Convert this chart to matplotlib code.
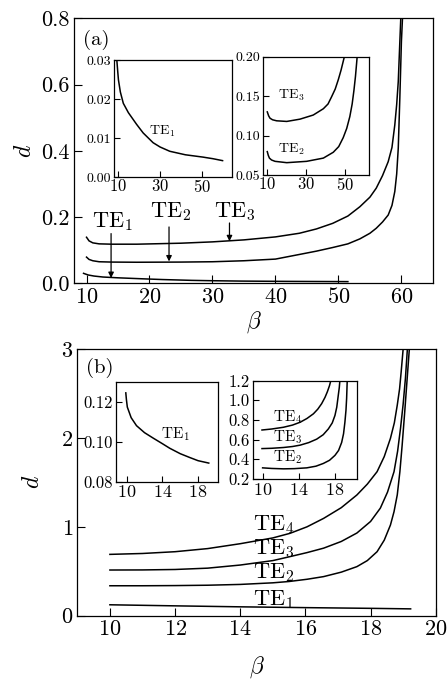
import numpy as np
import matplotlib
matplotlib.use("Agg")
import matplotlib.pyplot as plt
from matplotlib.ticker import FormatStrFormatter

plt.rcParams['font.family'] = 'serif'
plt.rcParams['font.serif'] = ['cmr10', 'DejaVu Serif']
plt.rcParams['mathtext.fontset'] = 'cm'
plt.rcParams['axes.formatter.use_mathtext'] = True

# ---------------- panel (a): d versus beta ----------------
# TE1 (same curve in the big panel and in the left inset)
beta_a_te1 = np.array([9.53, 10.0, 10.3, 11.2, 12.6, 15.0, 18.9, 22.0, 26.7, 30.0,
                       34.6, 42.0, 50.4, 51.5, 55.0, 59.6])
d_a_te1 = np.array([0.030, 0.0268, 0.0249, 0.0218, 0.0189, 0.0165, 0.0135, 0.0113, 0.0088,
                    0.0077, 0.0066, 0.0057, 0.0051, 0.0050, 0.0047, 0.0042])
te1_a_main_end = 51.5  # big panel only shows TE1 up to here

beta_a_te2 = np.array([10.0, 10.4, 11.0, 12.0, 14.0, 18.0, 25.0, 30.0, 35.0, 40.0, 43.8,
                       46.5, 49.1, 51.5, 53.4, 55.0, 56.0, 57.0, 57.9, 58.5, 58.95, 59.25,
                       59.5, 59.75, 60.0, 60.17])
d_a_te2 = np.array([0.079, 0.072, 0.068, 0.065, 0.064, 0.0635, 0.064, 0.065, 0.068, 0.073,
                    0.087, 0.097, 0.108, 0.119, 0.134, 0.151, 0.166, 0.185, 0.206, 0.235,
                    0.277, 0.33, 0.408, 0.56, 0.73, 0.80])

beta_a_te3 = np.array([10.0, 10.4, 11.0, 12.0, 14.0, 18.0, 25.0, 30.0, 35.0, 40.0, 43.8,
                       46.5, 49.1, 51.5, 53.4, 55.0, 56.0, 57.0, 57.9, 58.5, 58.95, 59.25,
                       59.5, 59.75, 59.9])
d_a_te3 = np.array([0.139, 0.128, 0.122, 0.119, 0.118, 0.118, 0.121, 0.125, 0.131, 0.140,
                    0.151, 0.164, 0.181, 0.203, 0.231, 0.26, 0.287, 0.325, 0.367, 0.41,
                    0.478, 0.54, 0.609, 0.729, 0.80])

# inset (a), right: TE2 and TE3 as drawn there
ins_a_beta_te2 = np.array([10.3, 10.8, 11.4, 12.5, 14.3, 20.3, 30.5, 39.1, 44.2, 47.0, 49.3,
                           51.1, 52.7, 53.9, 54.8, 55.6, 56.2, 56.5])
ins_a_d_te2 = np.array([0.0796, 0.075, 0.0714, 0.069, 0.0673, 0.0656, 0.0673, 0.0714,
                        0.0788, 0.086, 0.0973, 0.109, 0.124, 0.140, 0.157, 0.175, 0.192,
                        0.201])
ins_a_beta_te3 = np.array([10.3, 11.0, 11.7, 13.0, 15.1, 20.3, 27.1, 33.9, 39.1, 41.5, 43.3,
                           45.2, 46.8, 48.2, 49.3, 50.0])
ins_a_d_te3 = np.array([0.130, 0.125, 0.122, 0.120, 0.1187, 0.1179, 0.1208, 0.126, 0.134,
                        0.140, 0.149, 0.159, 0.171, 0.183, 0.194, 0.201])

# ---------------- panel (b) ----------------
beta_b_te1 = np.array([10.0, 12.0, 14.0, 16.0, 18.0, 19.23])
d_b_te1 = np.array([0.123, 0.111, 0.100, 0.091, 0.083, 0.077])

beta_b_te2 = np.array([10.0, 11.0, 12.0, 13.0, 14.0, 15.0, 15.5, 16.05, 16.56, 17.1, 17.58,
                       17.9, 18.2, 18.42, 18.61, 18.72, 18.82, 18.9, 18.97, 19.05, 19.12,
                       19.19])
d_b_te2 = np.array([0.337, 0.337, 0.339, 0.343, 0.352, 0.37, 0.385, 0.41, 0.44, 0.49, 0.552,
                    0.62, 0.72, 0.85, 1.02, 1.17, 1.36, 1.62, 1.92, 2.3, 2.65, 3.0])

beta_b_te3 = np.array([10.0, 11.0, 12.0, 13.0, 14.0, 15.0, 15.53, 16.05, 16.56, 17.1, 17.58,
                       18.0, 18.3, 18.52, 18.72, 18.83, 18.92, 19.0, 19.07, 19.13])
d_b_te3 = np.array([0.514, 0.515, 0.52, 0.535, 0.57, 0.62, 0.665, 0.71, 0.76, 0.835, 0.93,
                    1.06, 1.21, 1.39, 1.62, 1.85, 2.11, 2.38, 2.67, 3.0])

beta_b_te4 = np.array([10.0, 11.0, 12.0, 13.0, 14.0, 15.0, 15.53, 16.05, 16.56, 17.1, 17.58,
                       17.9, 18.2, 18.42, 18.61, 18.73, 18.82, 18.89, 18.94, 19.0])
d_b_te4 = np.array([0.69, 0.70, 0.72, 0.755, 0.81, 0.875, 0.927, 1.0, 1.095, 1.215, 1.358,
                    1.48, 1.62, 1.79, 1.995, 2.17, 2.37, 2.55, 2.745, 3.0])

# inset (b), left: TE1
ins_b_beta_te1 = np.array([9.9, 9.97, 10.07, 10.5, 11.1, 12.0, 13.0, 14.0, 14.83, 16.0,
                           17.06, 18.0, 19.2])
ins_b_d_te1 = np.array([0.1244, 0.121, 0.1173, 0.112, 0.108, 0.1045, 0.1017, 0.099, 0.0967,
                        0.0940, 0.0921, 0.0905, 0.0893])

# inset (b), right: TE2..TE4
ins_b_beta_te2 = np.array([10.0, 11.0, 12.31, 13.5, 14.88, 15.9, 16.72, 17.4, 18.0, 18.4,
                           18.74, 18.95, 19.1, 19.22, 19.29, 19.36])
ins_b_d_te2 = np.array([0.313, 0.307, 0.303, 0.305, 0.313, 0.33, 0.358, 0.39, 0.44, 0.49,
                        0.571, 0.66, 0.777, 0.9, 1.018, 1.207])
ins_b_beta_te3 = np.array([9.93, 11.0, 12.31, 13.3, 14.15, 15.1, 15.98, 16.7, 17.27, 17.7,
                           18.0, 18.2, 18.37, 18.48, 18.55])
ins_b_d_te3 = np.array([0.509, 0.512, 0.52, 0.53, 0.544, 0.57, 0.605, 0.65, 0.709, 0.77,
                        0.846, 0.93, 1.052, 1.13, 1.207])
ins_b_beta_te4 = np.array([9.93, 11.0, 12.31, 13.3, 14.15, 14.9, 15.62, 16.1, 16.53, 16.9,
                           17.16, 17.4, 17.56])
ins_b_d_te4 = np.array([0.698, 0.708, 0.726, 0.748, 0.777, 0.815, 0.863, 0.91, 0.966, 1.03,
                        1.087, 1.15, 1.207])

LW = 1.1


def style_axes(ax, size, length):
    ax.tick_params(direction='in', labelsize=size, length=length, width=0.8,
                   top=False, right=False, pad=3)
    for s in ax.spines.values():
        s.set_linewidth(0.9)


def te(n):
    return r'$\mathrm{TE}_%d$' % n


fig = plt.figure(figsize=(4.48, 6.79), dpi=100)

# ================= panel (a) =================
ax = fig.add_axes([0.165, 0.5828, 0.8013, 0.3903])
m = beta_a_te1 <= te1_a_main_end
ax.plot(beta_a_te1[m], d_a_te1[m], 'k', lw=LW)
ax.plot(beta_a_te2, d_a_te2, 'k', lw=LW)
ax.plot(beta_a_te3, d_a_te3, 'k', lw=LW)
ax.set_xlim(8, 65)
ax.set_ylim(0, 0.8)
ax.set_xticks([10, 20, 30, 40, 50, 60])
ax.set_yticks([0.0, 0.2, 0.4, 0.6, 0.8])
ax.yaxis.set_major_formatter(FormatStrFormatter('%.1f'))
style_axes(ax, 16, 5.5)
ax.set_xlabel(r'$\beta$', fontsize=17, labelpad=1)
ax.set_ylabel(r'$d$', fontsize=17, labelpad=4)
ax.text(0.025, 0.955, '(a)', transform=ax.transAxes, fontsize=15, va='top', ha='left')

# arrows pointing at the curves
arrow = dict(arrowstyle='-|>', color='k', lw=0.9, mutation_scale=8, shrinkA=0, shrinkB=0)
ax.annotate('', xy=(13.9, 0.016), xytext=(13.9, 0.15), arrowprops=arrow)
ax.annotate('', xy=(23.1, 0.066), xytext=(23.1, 0.17), arrowprops=arrow)
ax.annotate('', xy=(32.7, 0.127), xytext=(32.7, 0.182), arrowprops=arrow)
ax.text(14.1, 0.185, te(1), fontsize=16, ha='center', va='center')
ax.text(23.4, 0.215, te(2), fontsize=16, ha='center', va='center')
ax.text(33.5, 0.215, te(3), fontsize=16, ha='center', va='center')

# inset a1: TE1
ia1 = fig.add_axes([0.2545, 0.7393, 0.264, 0.1723])
ia1.plot(beta_a_te1, d_a_te1, 'k', lw=LW)
ia1.set_xlim(8.2, 64.2)
ia1.set_ylim(0, 0.03)
ia1.set_xticks([10, 30, 50])
ia1.set_yticks([0.0, 0.01, 0.02, 0.03])
ia1.yaxis.set_major_formatter(FormatStrFormatter('%.2f'))
style_axes(ia1, 10, 4)
ia1.tick_params(axis='x', labelsize=12, pad=1)
ia1.tick_params(axis='y', pad=2)
ia1.text(30.9, 0.0118, te(1), fontsize=10, ha='center', va='center')

# inset a2: TE2, TE3
ia2 = fig.add_axes([0.5877, 0.7423, 0.2366, 0.1742])
ia2.plot(ins_a_beta_te2, ins_a_d_te2, 'k', lw=LW)
ia2.plot(ins_a_beta_te3, ins_a_d_te3, 'k', lw=LW)
ia2.set_xlim(8.25, 62.7)
ia2.set_ylim(0.05, 0.20)
ia2.set_xticks([10, 30, 50])
ia2.set_yticks([0.05, 0.10, 0.15, 0.20])
ia2.yaxis.set_major_formatter(FormatStrFormatter('%.2f'))
style_axes(ia2, 10, 4)
ia2.tick_params(axis='x', labelsize=12, pad=1)
ia2.tick_params(axis='y', pad=2)
ia2.text(16.0, 0.151, te(3), fontsize=10, ha='left', va='center')
ia2.text(16.0, 0.083, te(2), fontsize=10, ha='left', va='center')

# ================= panel (b) =================
bx = fig.add_axes([0.1726, 0.0932, 0.80, 0.3928])
bx.plot(beta_b_te1, d_b_te1, 'k', lw=LW)
bx.plot(beta_b_te2, d_b_te2, 'k', lw=LW)
bx.plot(beta_b_te3, d_b_te3, 'k', lw=LW)
bx.plot(beta_b_te4, d_b_te4, 'k', lw=LW)
bx.set_xlim(9, 20)
bx.set_ylim(0, 3)
bx.set_xticks([10, 12, 14, 16, 18, 20])
bx.set_yticks([0, 1, 2, 3])
style_axes(bx, 16, 5.5)
bx.set_xlabel(r'$\beta$', fontsize=17, labelpad=11)
bx.set_ylabel(r'$d$', fontsize=17, labelpad=12)
bx.text(0.025, 0.965, '(b)', transform=bx.transAxes, fontsize=15, va='top', ha='left')
bx.text(14.4, 1.03, te(4), fontsize=16, ha='left', va='center')
bx.text(14.4, 0.76, te(3), fontsize=16, ha='left', va='center')
bx.text(14.4, 0.49, te(2), fontsize=16, ha='left', va='center')
bx.text(14.4, 0.18, te(1), fontsize=16, ha='left', va='center')

# inset b1: TE1
ib1 = fig.add_axes([0.2589, 0.2906, 0.227, 0.1473])
ib1.plot(ins_b_beta_te1, ins_b_d_te1, 'k', lw=LW)
ib1.set_xlim(8.8, 20.2)
ib1.set_ylim(0.08, 0.13)
ib1.set_xticks([10, 14, 18])
ib1.set_yticks([0.08, 0.10, 0.12])
ib1.yaxis.set_major_formatter(FormatStrFormatter('%.2f'))
style_axes(ib1, 12, 4)
ib1.tick_params(axis='x', labelsize=13, pad=2)
ib1.tick_params(axis='y', pad=2)
ib1.text(13.9, 0.1038, te(1), fontsize=11, ha='left', va='center')

# inset b2: TE2..TE4
ib2 = fig.add_axes([0.564, 0.2946, 0.2321, 0.1448])
ib2.plot(ins_b_beta_te2, ins_b_d_te2, 'k', lw=LW)
ib2.plot(ins_b_beta_te3, ins_b_d_te3, 'k', lw=LW)
ib2.plot(ins_b_beta_te4, ins_b_d_te4, 'k', lw=LW)
ib2.set_xlim(8.9, 20.4)
ib2.set_ylim(0.2, 1.2)
ib2.set_xticks([10, 14, 18])
ib2.set_yticks([0.2, 0.4, 0.6, 0.8, 1.0, 1.2])
ib2.yaxis.set_major_formatter(FormatStrFormatter('%.1f'))
style_axes(ib2, 12, 4)
ib2.tick_params(axis='x', labelsize=13, pad=2)
ib2.tick_params(axis='y', pad=2)
ib2.text(11.1, 0.83, te(4), fontsize=11, ha='left', va='center')
ib2.text(11.1, 0.62, te(3), fontsize=11, ha='left', va='center')
ib2.text(11.1, 0.42, te(2), fontsize=11, ha='left', va='center')

fig.savefig('out.png', dpi=100)
